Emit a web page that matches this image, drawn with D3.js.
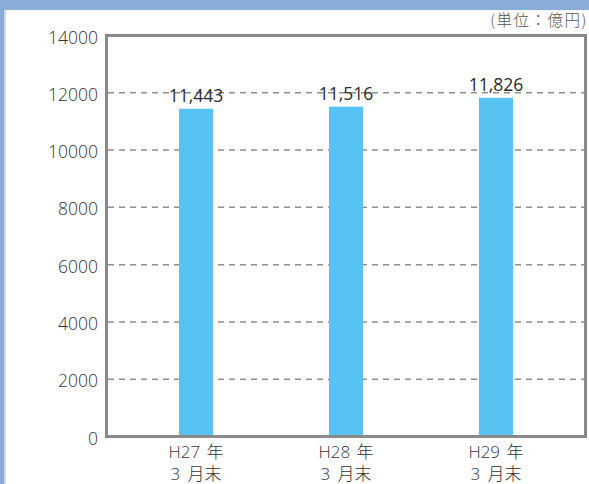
<!DOCTYPE html>
<html><head><meta charset="utf-8">
<script src="https://cdn.jsdelivr.net/npm/d3@7"></script>
<style>html,body{margin:0;padding:0;background:#fff;}svg{display:block;}</style>
</head><body>
<script>
const categories = ["H27 年", "H28 年", "H29 年"];
const subLabels = ["3 月末", "3 月末", "3 月末"];
const values = [11443, 11516, 11826];
const valueLabels = ["11,443", "11,516", "11,826"];
const yTicks = [0, 2000, 4000, 6000, 8000, 10000, 12000, 14000];
const unitLabel = "(単位：億円)";

(function () {
const W = 589, H = 484;
const svg = d3.select("body").append("svg").attr("width", W).attr("height", H);

// frame decoration
svg.append("rect").attr("x", 0).attr("y", 0).attr("width", W).attr("height", 10).attr("fill", "#8AACD9");
svg.append("rect").attr("x", 0).attr("y", 0).attr("width", 4).attr("height", H).attr("fill", "#8AACD9");
svg.append("rect").attr("x", 4).attr("y", 10).attr("width", 2).attr("height", H).attr("fill", "#C9D9EF");

const pL = 106.5, pR = 585.5, pT = 35.5, pB = 436.5;
const y = d3.scaleLinear().domain([0, 14000]).range([pB, pT]);
const x = d3.scalePoint().domain(categories).range([pL, pR]).padding(0.597);
const barW = 34;
const font = "'Open Sans', 'Noto Sans CJK JP', sans-serif";

// gridlines
svg.append("g").selectAll("line").data(yTicks.filter(d => d > 0 && d < 14000)).join("line")
  .attr("x1", pL + 1.5).attr("x2", pR - 1.5)
  .attr("y1", d => y(d)).attr("y2", d => y(d))
  .attr("stroke", "#8f8f8f").attr("stroke-width", 1.5).attr("stroke-dasharray", "6,5");

// y tick labels
svg.append("g").selectAll("text").data(yTicks).join("text")
  .attr("x", 98).attr("y", d => y(d) + 8)
  .attr("text-anchor", "end").attr("font-family", font).attr("font-size", 17.5)
  .attr("font-weight", 300).attr("fill", "#333").text(d => d);

// bars
svg.append("g").selectAll("rect").data(values).join("rect")
  .attr("x", (d, i) => x(categories[i]) - barW / 2)
  .attr("y", d => y(d)).attr("width", barW).attr("height", d => y(0) - y(d))
  .attr("fill", "#57C3F2");

// value labels
svg.append("g").selectAll("text").data(values).join("text")
  .attr("x", (d, i) => x(categories[i])).attr("y", d => y(d) - 7)
  .attr("text-anchor", "middle").attr("font-family", font).attr("font-size", 17.5)
  .attr("font-weight", 500).attr("fill", "#2b2b2b").text((d, i) => valueLabels[i]);

// frame
svg.append("rect").attr("x", pL).attr("y", pT).attr("width", pR - pL).attr("height", pB - pT)
  .attr("fill", "none").attr("stroke", "#8a8a8a").attr("stroke-width", 3);

// x labels
const xl = svg.append("g");
xl.selectAll("text.c").data(categories).join("text").attr("class", "c")
  .attr("x", d => x(d)).attr("y", 458).attr("text-anchor", "middle")
  .attr("font-family", font).attr("font-size", 17).attr("font-weight", 300)
  .attr("word-spacing", 2).attr("fill", "#333").text(d => d);
xl.selectAll("text.s").data(subLabels).join("text").attr("class", "s")
  .attr("x", (d, i) => x(categories[i])).attr("y", 480).attr("text-anchor", "middle")
  .attr("font-family", font).attr("font-size", 17).attr("font-weight", 300)
  .attr("word-spacing", 3).attr("fill", "#333").text(d => d);

// unit label
svg.append("text").attr("x", 588).attr("y", 26).attr("text-anchor", "end")
  .attr("font-family", "'Noto Sans CJK JP', sans-serif").attr("font-size", 15.5)
  .attr("font-weight", 300).attr("letter-spacing", 1.5).attr("fill", "#555").text(unitLabel);
})();
</script>
</body></html>
